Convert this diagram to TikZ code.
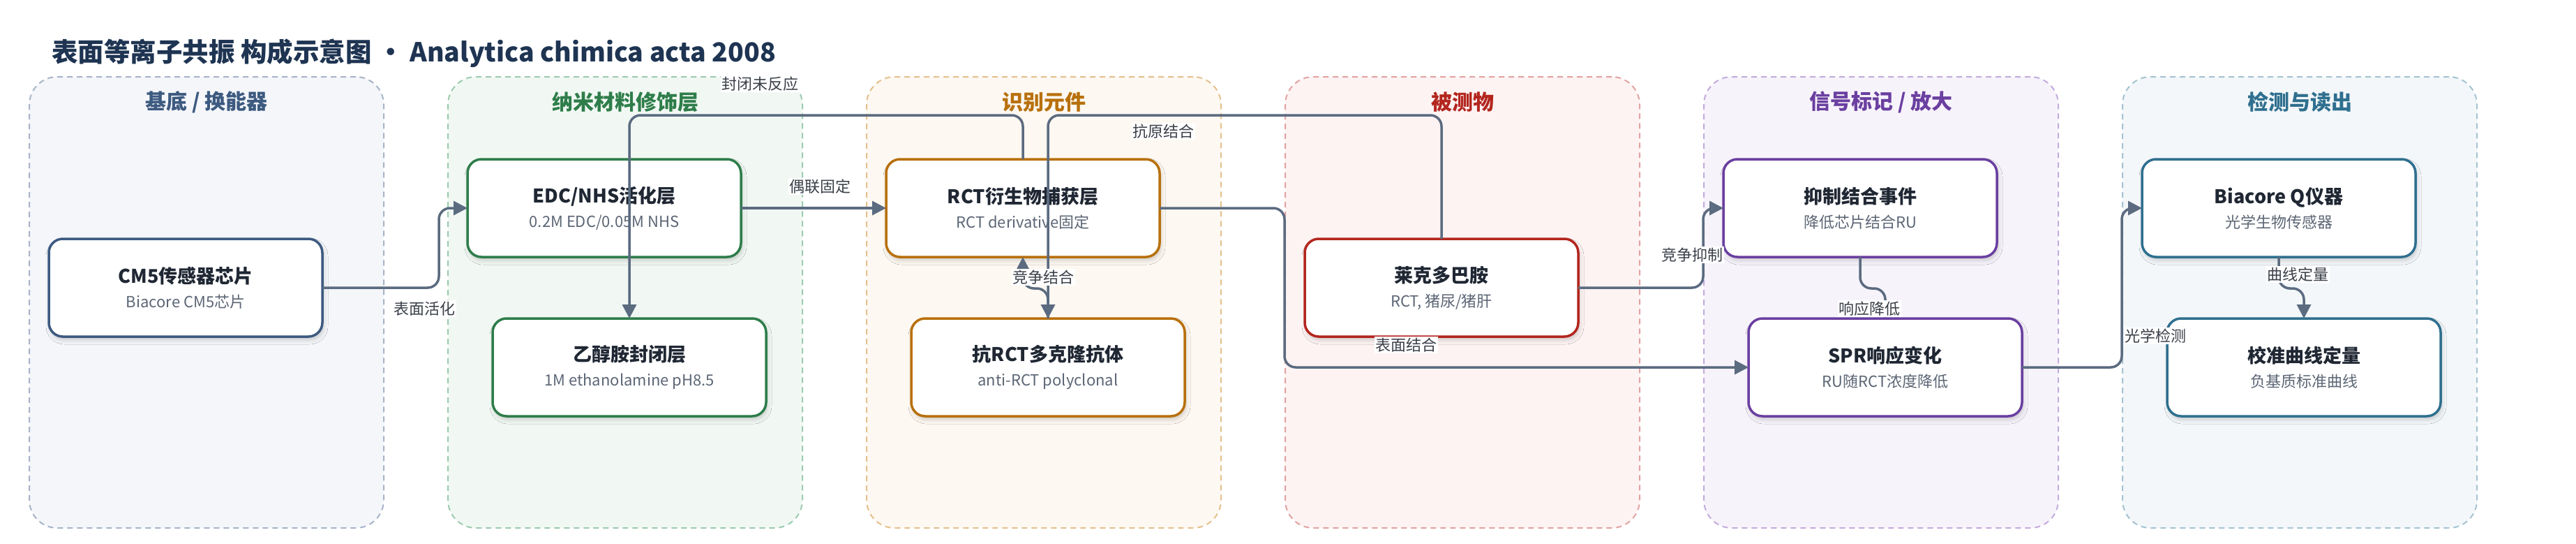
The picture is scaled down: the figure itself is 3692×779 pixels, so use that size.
\documentclass[tikz,border=0pt]{standalone}
\usepackage{fontspec}
\setmainfont{Noto Sans CJK SC}
\usetikzlibrary{arrows.meta,shadows.blur}
\definecolor{edgecol}{HTML}{5B6B80}
\definecolor{titlecol}{HTML}{1E3452}
\definecolor{ntext}{HTML}{1F2733}
\definecolor{nsub}{HTML}{5C6675}
\definecolor{lbltext}{HTML}{3A3F48}
\definecolor{fA}{HTML}{F4F6FA}\definecolor{bA}{HTML}{A7B4C7}\definecolor{cA}{HTML}{3D5A80}
\definecolor{fB}{HTML}{F1F8F3}\definecolor{bB}{HTML}{9CCBAE}\definecolor{cB}{HTML}{2E7D4A}
\definecolor{fC}{HTML}{FDF8F1}\definecolor{bC}{HTML}{E5C08D}\definecolor{cC}{HTML}{B8700C}
\definecolor{fD}{HTML}{FDF3F3}\definecolor{bD}{HTML}{E3A2A2}\definecolor{cD}{HTML}{B3261E}
\definecolor{fE}{HTML}{F7F3FB}\definecolor{bE}{HTML}{C3ACDD}\definecolor{cE}{HTML}{6A3FA0}
\definecolor{fF}{HTML}{F3F7F9}\definecolor{bF}{HTML}{A5C3D1}\definecolor{cF}{HTML}{2F6F8F}
\newcommand{\ntitle}[1]{{\fontsize{27}{34}\selectfont\bfseries\color{ntext}#1}}
\newcommand{\nsubt}[1]{{\color{nsub}#1}}
\tikzset{
  grp/.style 2 args={fill=#1, draw=#2, line width=2pt, dash pattern=on 8pt off 6pt,
    rounded corners=40pt, minimum width=508pt, minimum height=646pt, inner sep=0pt, outer sep=0pt},
  gtitle/.style={font=\fontsize{30}{36}\selectfont\bfseries, text=#1, inner sep=0pt},
  box/.style={draw=#1, fill=white, line width=3.5pt, rounded corners=20pt,
    minimum width=392pt, minimum height=140pt, align=center, inner sep=0pt, outer sep=0pt,
    font=\fontsize{22}{35}\selectfont,
    blur shadow={shadow xshift=2pt, shadow yshift=-5pt, shadow blur radius=6pt, shadow opacity=18}},
  edge/.style={draw=edgecol, line width=3.5pt, rounded corners=16pt,
    -{Triangle[length=20pt,width=20pt]}},
  lbl/.style={fill=white, inner sep=1.5pt, font=\fontsize{22}{26}\selectfont, text=lbltext}
}
\begin{document}
\begin{tikzpicture}[x=1pt,y=-1pt]
\useasboundingbox (0,0) rectangle (3692,779);
\fill[white] (0,0) rectangle (3692,779);

\node[anchor=west, font=\fontsize{37.5}{45}\selectfont\bfseries, text=titlecol, inner sep=0pt] (title) at (74,76)
  {表面等离子共振 构成示意图 · Analytica chimica acta 2008};

% groups
\node[grp={fA}{bA}] (G1) at (296,433) {};
\node[grp={fB}{bB}] (G2) at (896,433) {};
\node[grp={fC}{bC}] (G3) at (1496,433) {};
\node[grp={fD}{bD}] (G4) at (2096,433) {};
\node[grp={fE}{bE}] (G5) at (2696,433) {};
\node[grp={fF}{bF}] (G6) at (3296,433) {};
\node[gtitle=cA] (T1) at (296,146) {基底 / 换能器};
\node[gtitle=cB] (T2) at (896,146) {纳米材料修饰层};
\node[gtitle=cC] (T3) at (1496,146) {识别元件};
\node[gtitle=cD] (T4) at (2096,146) {被测物};
\node[gtitle=cE] (T5) at (2696,146) {信号标记 / 放大};
\node[gtitle=cF] (T6) at (3296,146) {检测与读出};

% nodes
\node[box=cA] (cm5) at (266,412) {\ntitle{CM5传感器芯片}\\\nsubt{Biacore CM5芯片}};
\node[box=cB] (edc) at (866,298) {\ntitle{EDC/NHS活化层}\\\nsubt{0.2M EDC/0.05M NHS}};
\node[box=cB] (eth) at (902,526) {\ntitle{乙醇胺封闭层}\\\nsubt{1M ethanolamine pH8.5}};
\node[box=cC] (rct) at (1466,298) {\ntitle{RCT衍生物捕获层}\\\nsubt{RCT derivative固定}};
\node[box=cC] (anti) at (1502,526) {\ntitle{抗RCT多克隆抗体}\\\nsubt{anti-RCT polyclonal}};
\node[box=cD] (rac) at (2066,412) {\ntitle{莱克多巴胺}\\\nsubt{RCT, 猪尿/猪肝}};
\node[box=cE] (inh) at (2666,298) {\ntitle{抑制结合事件}\\\nsubt{降低芯片结合RU}};
\node[box=cE] (spr) at (2702,526) {\ntitle{SPR响应变化}\\\nsubt{RU随RCT浓度降低}};
\node[box=cF] (bia) at (3266,298) {\ntitle{Biacore Q仪器}\\\nsubt{光学生物传感器}};
\node[box=cF] (cal) at (3302,526) {\ntitle{校准曲线定量}\\\nsubt{负基质标准曲线}};

% edges
\draw[edge] (cm5.east) -- ++(167,0) |- (edc.west);
\draw[edge] (edc.east) -- (rct.west);
\draw[edge] (rct.north) -- ++(0,-63) -| (eth.north);
\draw[edge] (rac.north) -- ++(0,-177) -| (anti.north);
\draw[edge] (anti.north) -- ++(0,-43) -| (rct.south);
\draw[edge] (rct.east) -- ++(179,0) |- (spr.west);
\draw[edge] (rac.east) -- ++(179,0) |- (inh.west);
\draw[edge] (inh.south) -- ++(0,45) -| (spr.north);
\draw[edge] (spr.east) -- ++(143,0) |- (bia.west);
\draw[edge] (bia.south) -- ++(0,45) -| (cal.north);

% labels
\node[lbl] (l1) at (608,442) {表面活化};
\node[lbl] (l2) at (1175,267) {偶联固定};
\node[lbl] (l3) at (1089,120) {封闭未反应};
\node[lbl] (l4) at (1667,188) {抗原结合};
\node[lbl] (l5) at (1495,397) {竞争结合};
\node[lbl] (l6) at (2015,494) {表面结合};
\node[lbl] (l7) at (2425,365) {竞争抑制};
\node[lbl] (l8) at (2679,442) {响应降低};
\node[lbl] (l9) at (3089,481) {光学检测};
\node[lbl] (l10) at (3293,393) {曲线定量};
\end{tikzpicture}
\end{document}
